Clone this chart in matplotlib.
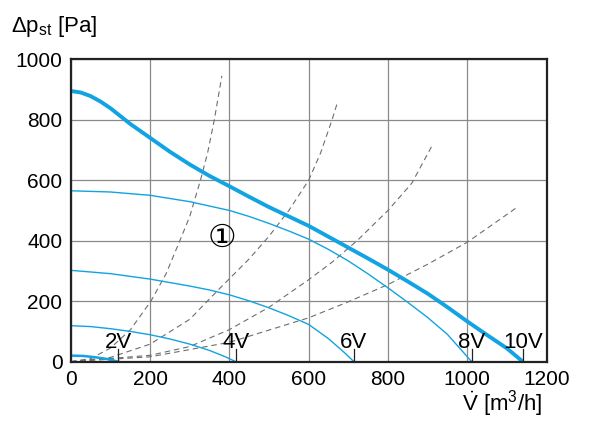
import matplotlib
matplotlib.use('Agg')
import matplotlib.pyplot as plt

plt.rcParams['font.family'] = ['Liberation Sans', 'DejaVu Sans']
plt.rcParams['mathtext.fontset'] = 'custom'
plt.rcParams['mathtext.rm'] = 'Liberation Sans'
plt.rcParams['mathtext.it'] = 'Liberation Sans'

BLUE = '#11a3e2'
GREY = '#6e6e6e'

# fan curves (flow m3/h, pressure Pa)
v10 = [0, 25, 50, 75, 100, 125, 150, 200, 250, 300, 350, 400, 450, 500, 550, 600,
       650, 700, 750, 800, 850, 900, 950, 1000, 1050, 1100, 1140]
p10 = [895, 890, 878, 860, 838, 812, 786, 740, 694, 652, 614, 580, 545, 511, 480, 449,
       413, 377, 341, 304, 265, 225, 180, 133, 88, 44, 0]

v8 = [0, 100, 200, 300, 400, 450, 500, 550, 600, 650, 700, 750, 800, 850, 900, 950, 1011]
p8 = [565, 561, 550, 529, 500, 480, 457, 432, 405, 371, 333, 290, 244, 196, 146, 90, 0]

v6 = [0, 100, 200, 300, 350, 400, 450, 500, 550, 600, 650, 690, 714]
p6 = [302, 291, 273, 250, 237, 221, 201, 178, 152, 123, 76, 30, 0]

v4 = [0, 50, 100, 150, 200, 250, 300, 350, 390, 416]
p4 = [119, 116, 109, 100, 89, 75, 58, 37, 16, 0]

v2 = [0, 30, 60, 90, 120]
p2 = [20, 19, 15, 9, 0]

# system curves (dashed)
sys1_v = [0, 50, 100, 150, 202, 240, 275, 300, 327, 345, 362, 381]
sys1_p = [0, 10, 45, 105, 200, 290, 400, 480, 600, 690, 800, 945]

sys2_v = [0, 100, 200, 300, 368, 450, 500, 550, 600, 630, 659, 672]
sys2_p = [0, 14, 58, 140, 232, 340, 415, 500, 600, 690, 800, 855]

sys3_v = [0, 200, 300, 400, 500, 600, 660, 722, 800, 860, 911]
sys3_p = [0, 21, 50, 106, 180, 271, 330, 400, 500, 590, 714]

sys4_v = [0, 200, 400, 600, 700, 800, 900, 1000, 1060, 1125]
sys4_p = [0, 16, 64, 145, 198, 255, 322, 395, 450, 510]

volt_labels = ['2V', '4V', '6V', '8V', '10V']
volt_pos = [120, 416, 714, 1011, 1140]

fig = plt.figure(figsize=(6.0, 4.23), dpi=100)
ax = fig.add_axes([0.118, 0.145, 0.793, 0.715])

ax.set_xlim(0, 1200)
ax.set_ylim(0, 1000)
ax.set_xticks(range(0, 1201, 200))
ax.set_yticks(range(0, 1001, 200))
ax.grid(True, color='#8a8a8a', linewidth=0.9)
ax.set_axisbelow(True)
ax.tick_params(length=0, labelsize=15, pad=6)
for s in ax.spines.values():
    s.set_linewidth(1.6)
    s.set_color('#222222')

# dashed system curves
for vv, pp in [(sys1_v, sys1_p), (sys2_v, sys2_p), (sys3_v, sys3_p), (sys4_v, sys4_p)]:
    ax.plot(vv, pp, color=GREY, lw=0.8, dashes=(5, 3.5))

ax.plot(v8, p8, color=BLUE, lw=1.0)
ax.plot(v6, p6, color=BLUE, lw=1.0)
ax.plot(v4, p4, color=BLUE, lw=1.0)
ax.plot(v2, p2, color=BLUE, lw=1.8)
ax.plot(v10, p10, color=BLUE, lw=2.8, solid_capstyle='butt')

# voltage markers at the end of each curve
for lab, x in zip(volt_labels, volt_pos):
    ax.plot([x, x], [0, 42], color='#222222', lw=0.9)
    ax.text(x, 30, lab, ha='center', va='bottom', fontsize=16)

ax.text(382, 408, '\u2460', ha='center', va='center', fontsize=23,
        family=['DejaVu Sans'])

fig.text(0.018, 0.925, r'$\mathregular{\Delta p_{st}}$ [Pa]', fontsize=16)
fig.text(0.77, 0.028, r'$\mathregular{\dot{V}}$ [m$\mathregular{^3}$/h]', fontsize=16)

fig.savefig('out.png', dpi=100)
